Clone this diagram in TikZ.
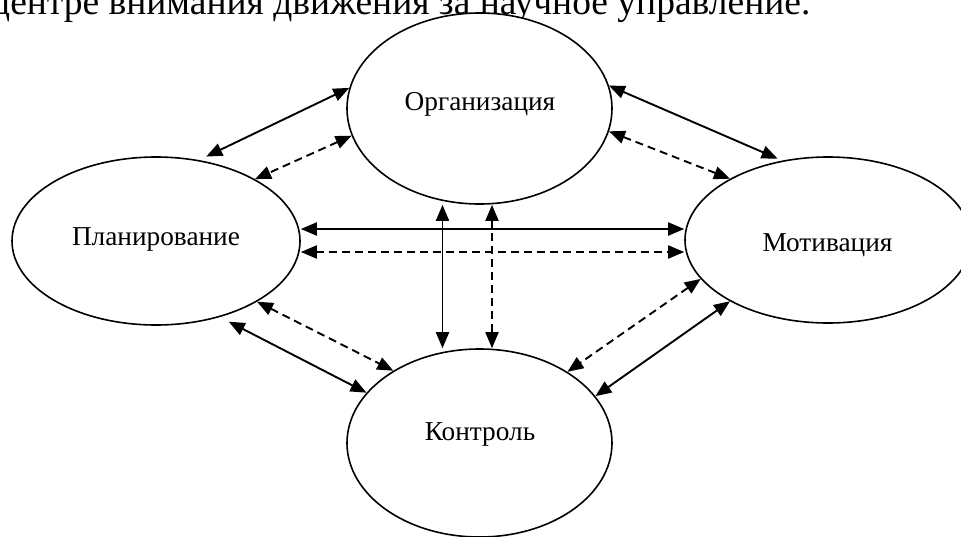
\documentclass[tikz,border=0pt]{standalone}
\usepackage{fontspec}
\setmainfont{Liberation Serif}
\usetikzlibrary{arrows.meta,shapes.geometric}
\begin{document}
\begin{tikzpicture}[x=1pt,y=-1pt,
  bub/.style={draw, fill=white, ellipse, line width=1.6pt, inner sep=0pt},
  lbl/.style={font=\fontsize{27.3}{30}\selectfont, inner sep=0pt, anchor=base},
  con/.style={line width=1.9pt, {Triangle[length=16pt,width=13pt]}-{Triangle[length=16pt,width=13pt]}},
  dsh/.style={con, dash pattern=on 8pt off 5pt}]
\useasboundingbox (0,0) rectangle (961,536);
\clip (0,0) rectangle (961,536);
% cut-off line of the surrounding text
\node[anchor=base west, font=\fontsize{37.5}{40}\selectfont, inner sep=0pt] (title) at (-10,14) {центре внимания движения за научное управление.};
% ellipses
\node[bub, minimum width=265pt, minimum height=191pt] (org) at (479.5,108.5) {};
\node[bub, minimum width=288pt, minimum height=168pt] (plan) at (156,241) {};
\node[bub, minimum width=286pt, minimum height=166pt] (mot) at (828,240) {};
\node[bub, minimum width=265pt, minimum height=188pt] (ctrl) at (479.5,443) {};
% labels
\node[lbl] (orgt) at (480,110) {Организация};
\node[lbl] (plant) at (156,245) {Планирование};
\node[lbl] (mott) at (827.5,251) {Мотивация};
\node[lbl] (ctrlt) at (480,440) {Контроль};
% connectors
\draw[con, shorten >=8pt] (org.171) -- (plan.62);
\draw[dsh] (org.192) -- (plan.32.5);
\draw[con, shorten >=5pt] (org.10) -- (mot.120);
\draw[dsh] (org.-10.4) -- (mot.148.5);
\draw[con] ([yshift=12pt]plan.east) -- ([yshift=12pt]plan.east -| mot.west);
\draw[dsh] ([yshift=-11pt]plan.east) -- ([yshift=-11pt]plan.east -| mot.west);
\draw[con] ([xshift=-37pt]org.south) -- ([xshift=-37pt]ctrl.north);
\draw[dsh] ([xshift=12.5pt]org.south) -- ([xshift=12.5pt]ctrl.north);
\draw[dsh] (plan.-31.3) -- (ctrl.140);
\draw[con, shorten <=10pt] (plan.-50.8) -- (ctrl.156.8);
\draw[dsh] (mot.197) -- (ctrl.39.7);
\draw[con] (mot.212) -- (ctrl.22.6);
\end{tikzpicture}
\end{document}
